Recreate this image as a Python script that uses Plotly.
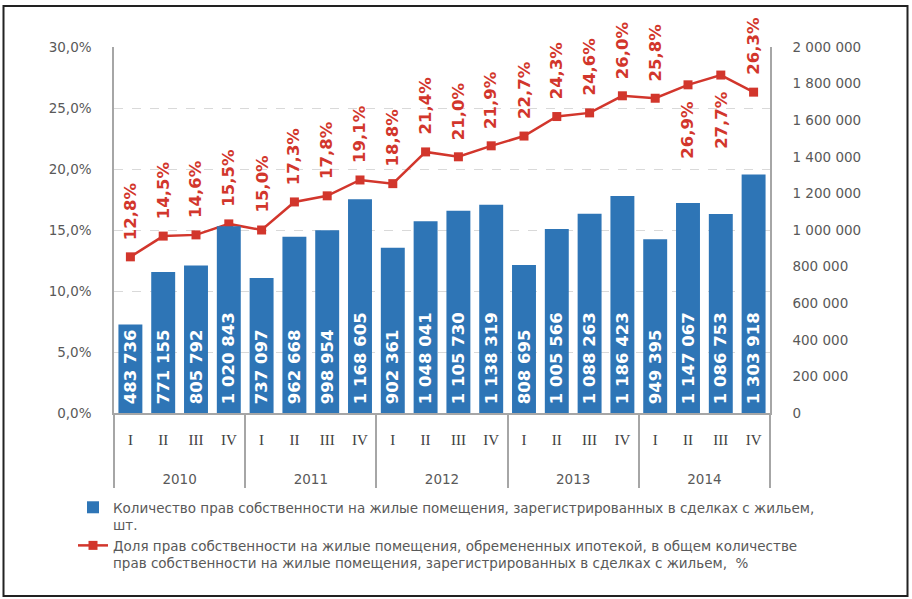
import plotly.graph_objects as go

# ---- data ----
years = ["2010", "2011", "2012", "2013", "2014"]
quarters = ["I", "II", "III", "IV"]
counts = [483736, 771155, 805792, 1020843,
          737097, 962668, 998954, 1168605,
          902361, 1048041, 1105730, 1138319,
          808695, 1005566, 1088263, 1186423,
          949395, 1147067, 1086753, 1303918]
shares = [12.8, 14.5, 14.6, 15.5,
          15.0, 17.3, 17.8, 19.1,
          18.8, 21.4, 21.0, 21.9,
          22.7, 24.3, 24.6, 26.0,
          25.8, 26.9, 27.7, 26.3]
below_labels = [17, 18]  # indices whose percent label sits below the point

bar_name = ("Количество прав собственности на жилые помещения, зарегистрированных в сделках с жильем,<br>"
            "шт.")
line_name = ("Доля прав собственности на жилые помещения, обремененных ипотекой, в общем количестве<br>"
             "прав собственности на жилые помещения, зарегистрированных в сделках с жильем,  %")

left_ticks = [0, 5, 10, 15, 20, 25, 30]
right_ticks = [0, 200000, 400000, 600000, 800000, 1000000, 1200000, 1400000, 1600000, 1800000, 2000000]

BLUE = "#2e75b6"
RED = "#d2362c"
GRAY = "#595959"
FONT = "DejaVu Sans"

def sp(n):
    return f"{n:,}".replace(",", " ")

xl0 = [f"&nbsp;<br>&nbsp;<br>{y}" for y in years for _ in quarters]
xl1 = [f"<span style='font-family:Liberation Serif;font-size:15px;fill:#404040'>{q}</span>"
       for _ in years for q in quarters]
n_cat = len(counts)

fig = go.Figure()
fig.add_trace(go.Bar(
    x=[xl0, xl1], y=counts, yaxis="y2", name=bar_name,
    marker=dict(color=BLUE, line=dict(width=0)),
    text=["\u00a0" + sp(v) for v in counts], textposition="inside", insidetextanchor="start",
    textangle=-90, textfont=dict(color="white", size=16.5, family=FONT, weight="bold"),
    constraintext="none",
))
fig.add_trace(go.Scatter(
    x=[xl0, xl1], y=shares, yaxis="y", name=line_name, mode="lines+markers",
    line=dict(color=RED, width=2.5),
    marker=dict(symbol="square", size=9, color=RED),
))

annotations = []
for i, v in enumerate(shares):
    lab = f"{v:.1f}%".replace(".", ",")
    below = i in below_labels
    annotations.append(dict(
        x=i, y=v, xref="x", yref="y", text=lab, showarrow=False, textangle=-90,
        yanchor="top" if below else "bottom", yshift=-14 if below else 15,
        font=dict(color=RED, size=16.5, family=FONT, weight="bold"),
    ))

W, H = 912, 599
L, R, T, B = 114, 142, 47, 186
pw, ph = W - L - R, H - T - B
def px(x):
    return (x - L) / pw
def py(y):
    return (H - B - y) / ph

fig.update_layout(
    width=W, height=H,
    margin=dict(l=L, r=R, t=T, b=B, autoexpand=False),
    plot_bgcolor="white", paper_bgcolor="white",
    bargap=0.27,
    font=dict(family=FONT, color=GRAY, size=13),
    xaxis=dict(
        type="multicategory", range=[-0.5, n_cat - 0.5],
        showline=True, linecolor="#a6a6a6", linewidth=1.5,
        showgrid=False, ticks="", ticklabelstandoff=14,
        tickfont=dict(size=13.5, color=GRAY, family=FONT),
        showdividers=True, dividercolor="#a6a6a6", dividerwidth=1.5,
    ),
    yaxis=dict(
        range=[0, 30], tickvals=left_ticks,
        ticktext=[f"{t:.1f}%".replace(".", ",") for t in left_ticks],
        showline=True, linecolor="#a6a6a6", linewidth=1.5,
        showgrid=True, gridcolor="#d9d9d9", griddash="dash", gridwidth=1.2,
        zeroline=False, ticks="", ticklabelstandoff=18,
        tickfont=dict(size=13.5, color=GRAY, family=FONT),
    ),
    yaxis2=dict(
        range=[0, 2000000], tickvals=right_ticks, ticktext=[sp(t) for t in right_ticks],
        overlaying="y", side="right", showline=True, linecolor="#a6a6a6", linewidth=1.5,
        showgrid=False, zeroline=False, ticks="", ticklabelstandoff=18,
        tickfont=dict(size=13.5, color=GRAY, family=FONT),
    ),
    legend=dict(
        x=px(73), y=py(492), xanchor="left", yanchor="top", valign="top",
        font=dict(size=13.5, color=GRAY, family=FONT), tracegroupgap=4,
        bgcolor="rgba(0,0,0,0)", itemwidth=30,
    ),
    annotations=annotations,
    shapes=[dict(type="rect", xref="paper", yref="paper",
                 x0=px(3.5), x1=px(907.5), y0=py(596), y1=py(6),
                 line=dict(color="#222222", width=2), layer="below")],
    showlegend=True,
)

fig.write_html("out.html", config={"displayModeBar": False},
               post_script="document.body.style.margin='0';document.body.style.padding='0';")
